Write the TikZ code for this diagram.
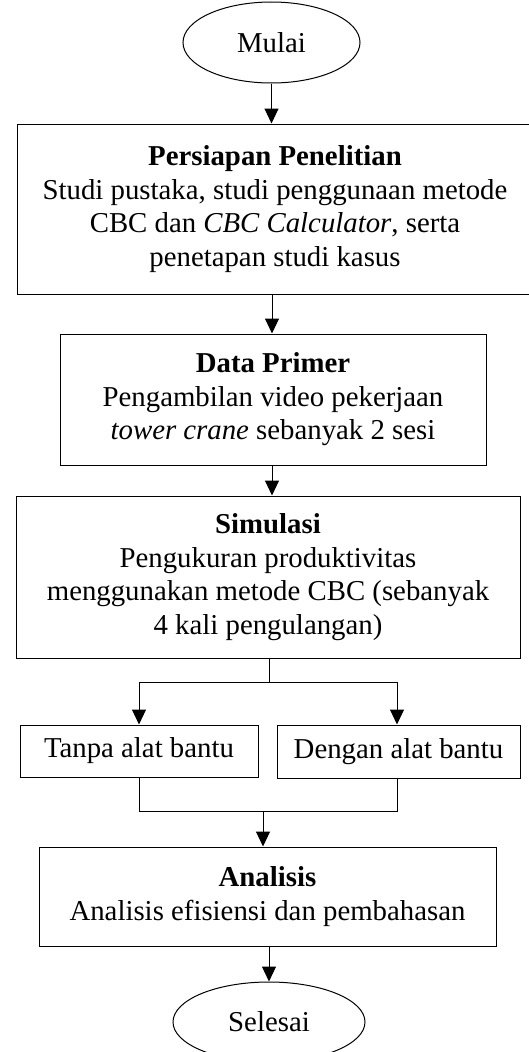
\documentclass[tikz,border=0pt]{standalone}
\usepackage{fontspec}
\setmainfont{Liberation Serif}
\usetikzlibrary{arrows.meta,shapes.geometric}
\begin{document}
\begin{tikzpicture}[x=1pt,y=-1pt,
  every node/.style={font=\fontsize{28.8}{33.5}\selectfont, inner sep=0pt},
  box/.style={draw, line width=1pt, rectangle, align=center},
  oval/.style={draw, line width=1pt, ellipse},
  link/.style={line width=1pt},
  arr/.style={line width=1pt, -{Triangle[width=14pt,length=15pt]}}]
\useasboundingbox (0,0) rectangle (529,1052);
\node[oval, minimum width=177pt, minimum height=81pt] (mulai) at (271.5,42.5) {Mulai};
\node[box, minimum width=516pt, minimum height=170pt] (b1) at (275,209) {\textbf{Persiapan Penelitian}\\Studi pustaka, studi penggunaan metode\\CBC dan \textit{CBC Calculator}, serta\\penetapan studi kasus};
\node[box, minimum width=426pt, minimum height=131pt] (b2) at (273,399.5) {\textbf{Data Primer}\\Pengambilan video pekerjaan\\\textit{tower crane} sebanyak 2 sesi};
\node[box, minimum width=504pt, minimum height=162pt] (b3) at (268,577) {\textbf{Simulasi}\\Pengukuran produktivitas\\menggunakan metode CBC (sebanyak\\4 kali pengulangan)};
\node[box, minimum width=238pt, minimum height=52pt] (tanpa) at (139,751) {Tanpa alat bantu};
\node[box, minimum width=243pt, minimum height=53pt] (dengan) at (398.5,751.5) {Dengan alat bantu};
\node[box, minimum width=457pt, minimum height=99pt] (ana) at (267.5,896.5) {\textbf{Analisis}\\Analisis efisiensi dan pembahasan};
\node[oval, minimum width=192pt, minimum height=80pt] (sel) at (269,1022) {Selesai};
\coordinate (j1) at (269,682);
\coordinate (j2) at (263,811);
\draw[arr] (mulai.south) -- (mulai.south |- b1.north);
\draw[arr] (b1.south -| 272,0) -- (b2.north -| 272,0);
\draw[arr] (b2.south -| 272,0) -- (b3.north -| 272,0);
\draw[link] (b3.south -| j1) -- (j1);
\draw[arr] (j1) -| (tanpa.north);
\draw[arr] (j1) -| (dengan.north -| 397,0);
\draw[link] (tanpa.south) |- (j2);
\draw[link] (dengan.south -| 397,0) |- (j2);
\draw[arr] (j2) -- (j2 |- ana.north);
\draw[arr] (ana.south -| sel.north) -- (sel.north);
\end{tikzpicture}
\end{document}
